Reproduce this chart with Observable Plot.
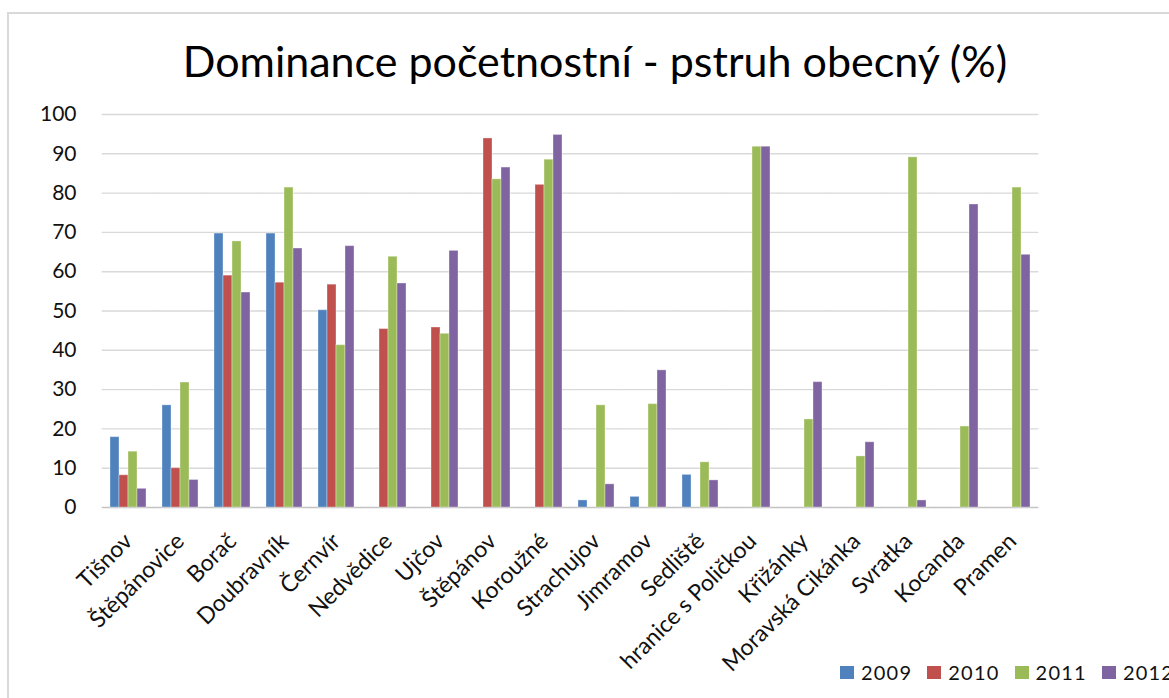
<!DOCTYPE html>
<html>
<head>
<meta charset="utf-8">
<script src="https://cdn.jsdelivr.net/npm/d3@7"></script>
<script src="https://cdn.jsdelivr.net/npm/@observablehq/plot@0.6"></script>
<style>
  html, body { margin: 0; padding: 0; background: #fff; }
  #chart { position: relative; width: 1169px; height: 698px; overflow: hidden; font-family: Lato, "Open Sans", sans-serif; color: #000; }
  #frame { position: absolute; left: 7px; top: 12px; width: 1300px; height: 800px; border: 2px solid #d9d9d9; box-sizing: border-box; }
  #title { position: absolute; left: 0; width: 1190px; top: 38.6px; text-align: center; font-size: 43px; line-height: 43px; white-space: nowrap; }
  #plot { position: absolute; left: 0; top: 0; }
  #legend { position: absolute; left: 840px; top: 658px; font-size: 20px; letter-spacing: 1.2px; white-space: nowrap; color: #111; }
  .item { position: absolute; top: 0; }
  .swatch { position: absolute; top: 8px; width: 14px; height: 13px; }
  .label { position: absolute; left: 21px; top: 0; line-height: 28px; }
</style>
</head>
<body>
<div id="chart">
  <div id="frame"></div>
  <div id="plot"></div>
  <div id="title">Dominance početnostní - pstruh obecný (%)</div>
  <div id="legend"></div>
</div>
<script>
// Sampling sites along the river, upstream order
const sites = ["Tišnov", "Štěpánovice", "Borač", "Doubravník", "Černvír", "Nedvědice", "Ujčov",
  "Štěpánov", "Koroužné", "Strachujov", "Jimramov", "Sedliště", "hranice s Poličkou",
  "Křižánky", "Moravská Cikánka", "Svratka", "Kocanda", "Pramen"];

const years = ["2009", "2010", "2011", "2012"];
const yearColors = ["#4F81BD", "#C0504D", "#9BBB59", "#8064A2"];

// Dominance of brown trout by abundance (%), null = not sampled
const v2009 = [17.9, 26.0, 69.7, 69.7, 50.2, null, null, null, null, 1.8, 2.7, 8.3, null, null, null, null, null, null];
const v2010 = [8.2, 10.0, 59.0, 57.2, 56.7, 45.4, 45.8, 93.9, 82.1, null, null, null, null, null, null, null, null, null];
const v2011 = [14.2, 31.8, 67.7, 81.4, 41.3, 63.8, 44.2, 83.5, 88.5, 26.0, 26.3, 11.5, 91.8, 22.4, 13.0, 89.1, 20.6, 81.4];
const v2012 = [4.75, 7.0, 54.7, 65.9, 66.5, 57.0, 65.3, 86.5, 94.8, 5.9, 34.9, 6.9, 91.8, 31.9, 16.6, 1.8, 77.1, 64.3];

const yTicks = [0, 10, 20, 30, 40, 50, 60, 70, 80, 90, 100];

const seriesByYear = [v2009, v2010, v2011, v2012];
const rows = [];
sites.forEach((site, i) => {
  years.forEach((year, j) => {
    const value = seriesByYear[j][i];
    if (value != null) rows.push({site, year, value});
  });
});

// Band layout: 150% gap between site groups, half a gap at each end
const W = 1169, ML = 100, MR = 130;
const padIn = 0.273, padOut = 0.137;
const step = (W - ML - MR) / (sites.length - padIn + 2 * padOut);
const halfGap = padIn * step / 2 + 0.2; // lets gridlines run across the gaps between facets

const plot = Plot.plot({
  width: W,
  height: 698,
  marginTop: 114,
  marginBottom: 191,
  marginLeft: ML,
  marginRight: MR,
  style: {fontFamily: "Lato, 'Open Sans', sans-serif", color: "#111", background: "transparent"},
  fx: {domain: sites, paddingInner: padIn, paddingOuter: padOut},
  x: {domain: years, padding: 0, axis: null},
  y: {domain: [0, 100]},
  color: {domain: years, range: yearColors},
  marks: [
    Plot.ruleY(yTicks.slice(1), {stroke: "#d9d9d9", strokeWidth: 1.4, insetLeft: -halfGap, insetRight: -halfGap}),
    Plot.ruleY([0], {stroke: "#c4c4c4", strokeWidth: 1.4, insetLeft: -halfGap, insetRight: -halfGap}),
    Plot.barY(rows, {fx: "site", x: "year", y: "value", fill: "year", stroke: "#ffffff", strokeOpacity: 0.35, strokeWidth: 1}),
    Plot.axisY({ticks: yTicks, tickSize: 0, tickPadding: 33, fontSize: 21, label: null}),
    Plot.axisFx({anchor: "bottom", tickRotate: -45, tickSize: 0, tickPadding: 30, fontSize: 23, label: null})
  ]
});
document.getElementById("plot").appendChild(plot);

// Legend row below the plot
const legend = document.getElementById("legend");
years.forEach((year, j) => {
  const item = document.createElement("div");
  item.className = "item";
  item.style.left = (j * 87.3) + "px";
  const sw = document.createElement("div");
  sw.className = "swatch";
  sw.style.background = yearColors[j];
  const lab = document.createElement("div");
  lab.className = "label";
  lab.textContent = year;
  item.appendChild(sw);
  item.appendChild(lab);
  legend.appendChild(item);
});
</script>
</body>
</html>
